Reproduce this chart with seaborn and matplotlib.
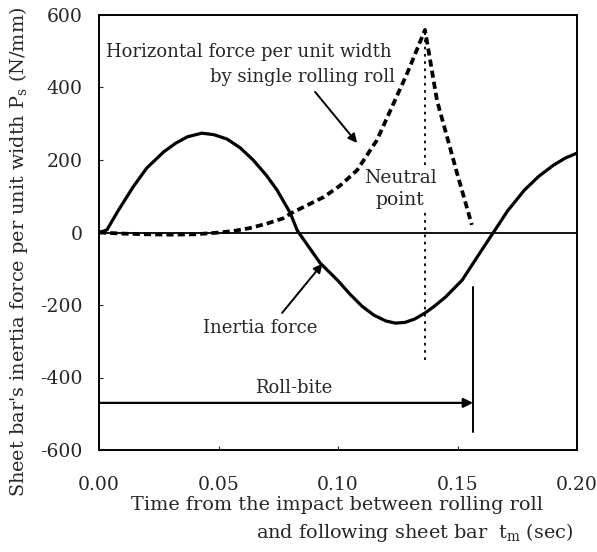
import numpy as np
import pandas as pd
import matplotlib
matplotlib.use("Agg")
import matplotlib.pyplot as plt
import seaborn as sns

# Inertia force (solid)
t_inertia = [0.0, 0.0033, 0.008, 0.0143, 0.02, 0.027, 0.032, 0.037, 0.043, 0.048,
             0.0535, 0.059, 0.0645, 0.07, 0.0745, 0.080, 0.083, 0.0925, 0.1, 0.105,
             0.11, 0.115, 0.12, 0.124, 0.128, 0.132, 0.1364, 0.14, 0.145, 0.152,
             0.158, 0.165, 0.171, 0.178, 0.184, 0.19, 0.195, 0.2]
f_inertia = [0, 7, 60, 126, 178, 222, 246, 264, 274, 270,
             258, 234, 200, 158, 117, 54, 5, -84, -133, -170,
             -203, -228, -244, -250, -248, -239, -222, -205, -178, -131,
             -70, 0, 60, 117, 155, 185, 205, 219]

# Horizontal force by single rolling roll (dashed)
t_horiz = [0.0, 0.01, 0.02, 0.03, 0.04, 0.0506, 0.057, 0.063, 0.07, 0.077, 0.0806,
           0.0941, 0.101, 0.108, 0.1163, 0.122, 0.129, 0.1364, 0.1414, 0.1498, 0.156]
f_horiz = [0, -3, -5, -6, -5, 0, 5, 12, 24, 39, 54,
           98, 130, 172, 255, 338, 440, 559, 365, 164, 21]

neutral_t = 0.1364
neutral_range = [-352, 560]
rollbite_t = 0.1565
rollbite_range = [-550, -150]
rollbite_arrow_y = -470

yticks = [-600, -400, -200, 0, 200, 400, 600]
xticks = [0.00, 0.05, 0.10, 0.15, 0.20]

sns.set_style("ticks")
plt.rcParams['font.family'] = ['DejaVu Serif']
plt.rcParams['mathtext.fontset'] = 'dejavuserif'

fig = plt.figure(figsize=(5.97, 5.52), dpi=100)
ax = fig.add_axes([99/597, 1-450/552, (577-99)/597, (450-15)/552])

df1 = pd.DataFrame({"t": t_inertia, "f": f_inertia})
df2 = pd.DataFrame({"t": t_horiz, "f": f_horiz})
sns.lineplot(data=df1, x="t", y="f", ax=ax, color="black", lw=2.3, zorder=4)
sns.lineplot(data=df2, x="t", y="f", ax=ax, color="black", lw=2.7,
             linestyle=(0, (1.9, 1.1)), zorder=4)

ax.axhline(0, color="black", lw=1.3, zorder=3)
ax.plot([neutral_t, neutral_t], neutral_range, color="black", lw=1.3,
        ls=(0, (1.5, 2.5)), zorder=2)
ax.plot([rollbite_t, rollbite_t], rollbite_range, color="black", lw=1.4)
ax.annotate("", xy=(rollbite_t, rollbite_arrow_y), xytext=(0, rollbite_arrow_y),
            arrowprops=dict(arrowstyle="-|>", color="black", lw=1.6, mutation_scale=14,
                            shrinkA=0, shrinkB=0))

ax.set_xlim(0, 0.2)
ax.set_ylim(-600, 600)
ax.set_xticks(xticks)
ax.set_xticklabels([f"{v:.2f}" for v in xticks])
ax.set_yticks(yticks)
ax.set_yticklabels([str(v) for v in yticks])
ax.tick_params(direction="in", length=3, width=0.8, labelsize=13.5)
ax.tick_params(axis="x", pad=19)
ax.tick_params(axis="y", pad=12)
for s in ax.spines.values():
    s.set_linewidth(1.4)
    s.set_color("black")

fs = 13
ax.text(0.0030, 498, "Horizontal force per unit width", fontsize=fs, ha="left", va="center")
ax.text(0.1238, 429, "by single rolling roll", fontsize=fs, ha="right", va="center")
ax.annotate("", xy=(0.108, 247), xytext=(0.0904, 388),
            arrowprops=dict(arrowstyle="-|>", color="black", lw=1.4, mutation_scale=13,
                            shrinkA=0, shrinkB=0))
ax.text(0.126, 120, "Neutral\npoint", fontsize=fs + 0.5, ha="center", va="center",
        linespacing=1.25, zorder=3,
        bbox=dict(facecolor="white", edgecolor="none", pad=0.5))
ax.text(0.0674, -263, "Inertia force", fontsize=fs, ha="center", va="center")
ax.annotate("", xy=(0.0935, -86), xytext=(0.0766, -222),
            arrowprops=dict(arrowstyle="-|>", color="black", lw=1.4, mutation_scale=13,
                            shrinkA=0, shrinkB=0))
ax.text(0.0813, -429, "Roll-bite", fontsize=fs, ha="center", va="center")

ax.set_xlabel("")
ax.set_ylabel("")
fig.text(19/597, 1-252/552,
         r"Sheet bar's inertia force per unit width P$_\mathrm{s}$ (N/mm)",
         fontsize=13.9, rotation=90, ha="center", va="center")
fig.text(337/597, 1-505/552, "Time from the impact between rolling roll", fontsize=13.9,
         ha="center", va="center")
fig.text(573/597, 1-532/552, r"and following sheet bar  t$_\mathrm{m}$ (sec)", fontsize=13.9,
         ha="right", va="center")

fig.savefig("out.png", dpi=100)
